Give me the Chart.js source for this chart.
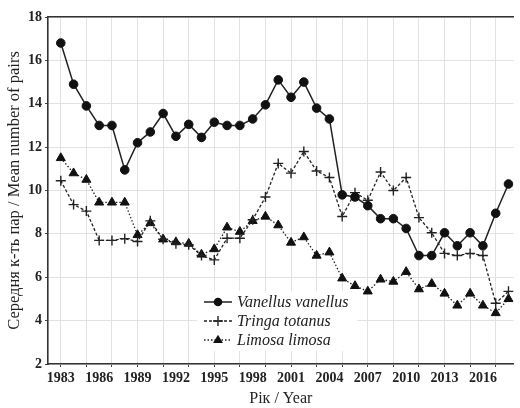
<!DOCTYPE html>
<html>
<head>
<meta charset="utf-8">
<script src="https://cdn.jsdelivr.net/npm/chart.js@4.4.1/dist/chart.umd.min.js"></script>
<style>
    html, body { margin: 0; padding: 0; background: #fff; }
    #wrap { width: 520px; height: 408px; position: relative; }
</style>
</head>
<body>
<div id="wrap"><canvas id="birdChart"></canvas></div>
<script>
const years = [1983, 1984, 1985, 1986, 1987, 1988, 1989, 1990, 1991, 1992, 1993, 1994,
               1995, 1996, 1997, 1998, 1999, 2000, 2001, 2002, 2003, 2004, 2005, 2006,
               2007, 2008, 2009, 2010, 2011, 2012, 2013, 2014, 2015, 2016, 2017, 2018];

const vanellus = [16.8, 14.9, 13.9, 13.0, 13.0, 10.95, 12.2, 12.7, 13.55, 12.5, 13.05, 12.45,
                  13.15, 13.0, 13.0, 13.3, 13.95, 15.1, 14.3, 15.0, 13.8, 13.3, 9.8, 9.7,
                  9.3, 8.7, 8.7, 8.25, 7.0, 7.0, 8.05, 7.45, 8.05, 7.45, 8.95, 10.3];

const tringa = [10.45, 9.35, 9.05, 7.7, 7.7, 7.78, 7.65, 8.6, 7.75, 7.55, 7.5, 7.0,
                6.8, 7.8, 7.8, 8.65, 9.7, 11.25, 10.8, 11.8, 10.9, 10.6, 8.8, 9.9,
                9.55, 10.85, 10.0, 10.6, 8.75, 8.05, 7.1, 7.0, 7.1, 7.0, 4.8, 5.35];

const limosa = [11.5, 10.8, 10.5, 9.45, 9.45, 9.45, 7.95, 8.5, 7.75, 7.62, 7.55, 7.05,
                7.3, 8.3, 8.1, 8.6, 8.8, 8.4, 7.6, 7.85, 7.0, 7.15, 5.95, 5.6,
                5.35, 5.9, 5.8, 6.25, 5.45, 5.7, 5.25, 4.7, 5.25, 4.7, 4.35, 5.0];

const seriesNames = ['Vanellus vanellus', 'Tringa totanus', 'Limosa limosa'];
const yTitle = 'Середня к-ть пар / Mean number of pairs';
const xTitle = 'Рік / Year';
const firstLabelYear = 1983;   // x labels every 3 years from here

const INK = '#222';
const GRID = '#e2e2e2';

function toPoints(values) {
    return values.map((v, i) => ({ x: years[i], y: v }));
}

// legend drawn inside the plot: line sample + marker + italic name
const insideLegend = {
    id: 'insideLegend',
    afterDatasetsDraw(chart) {
        const ctx = chart.ctx;
        ctx.save();
        ctx.fillStyle = '#fff';
        ctx.fillRect(197, 291, 160, 60);
        chart.data.datasets.forEach((ds, i) => {
            const y = 302 + i * 19;
            const mx = 218;
            ctx.strokeStyle = ds.borderColor;
            ctx.lineWidth = ds.borderWidth;
            ctx.setLineDash(ds.borderDash || []);
            ctx.beginPath();
            ctx.moveTo(204, y);
            ctx.lineTo(232, y);
            ctx.stroke();
            ctx.setLineDash([]);

            const r = ds.pointRadius;
            ctx.fillStyle = ds.pointBackgroundColor;
            ctx.strokeStyle = ds.pointBorderColor;
            ctx.lineWidth = ds.pointBorderWidth;
            ctx.beginPath();
            if (ds.pointStyle === 'circle') {
                ctx.arc(mx, y, r, 0, Math.PI * 2);
                ctx.fill();
            } else if (ds.pointStyle === 'triangle') {
                ctx.moveTo(mx, y - r);
                ctx.lineTo(mx + r * 0.95, y + r * 0.6);
                ctx.lineTo(mx - r * 0.95, y + r * 0.6);
                ctx.closePath();
                ctx.fill();
            } else {
                ctx.moveTo(mx - r, y); ctx.lineTo(mx + r, y);
                ctx.moveTo(mx, y - r); ctx.lineTo(mx, y + r);
                ctx.stroke();
            }

            ctx.fillStyle = INK;
            ctx.font = 'italic 16px "Liberation Serif"';
            ctx.textBaseline = 'middle';
            ctx.textAlign = 'left';
            ctx.fillText(ds.label, 237, y + 1);
        });
        ctx.restore();
    }
};

const ctx = document.getElementById('birdChart').getContext('2d');
new Chart(ctx, {
    type: 'line',
    data: {
        datasets: [
            {
                label: seriesNames[0], data: toPoints(vanellus),
                borderColor: INK, borderWidth: 1.5, tension: 0,
                pointStyle: 'circle', pointRadius: 4.3,
                pointBackgroundColor: '#111', pointBorderColor: '#111', pointBorderWidth: 1
            },
            {
                label: seriesNames[1], data: toPoints(tringa),
                borderColor: INK, borderWidth: 1.3, borderDash: [3, 2], tension: 0,
                pointStyle: 'cross', pointRadius: 5,
                pointBackgroundColor: INK, pointBorderColor: INK, pointBorderWidth: 1.4
            },
            {
                label: seriesNames[2], data: toPoints(limosa),
                borderColor: INK, borderWidth: 1.3, borderDash: [1.5, 2], tension: 0,
                pointStyle: 'triangle', pointRadius: 5.2,
                pointBackgroundColor: '#111', pointBorderColor: '#111', pointBorderWidth: 1
            }
        ]
    },
    options: {
        responsive: true,
        maintainAspectRatio: false,
        animation: false,
        layout: { padding: { top: 17, right: 0, left: 0, bottom: 0 } },
        plugins: { legend: { display: false }, tooltip: { enabled: false } },
        scales: {
            x: {
                type: 'linear', position: 'bottom', min: 1982, max: 2018.4,
                afterFit: (scale) => { scale.height = 44; },
                border: { display: true, color: '#333', width: 1.6 },
                grid: {
                    color: (c) => (c.tick && c.tick.value % 2 === 1 ? GRID : 'rgba(0,0,0,0)'),
                    tickColor: (c) => (c.tick && c.tick.value % 2 === 1 ? '#444' : 'rgba(0,0,0,0)'),
                    tickLength: 3, lineWidth: 1
                },
                ticks: {
                    stepSize: 1, autoSkip: false, includeBounds: false, maxRotation: 0,
                    padding: 3, color: INK,
                    font: { family: '"Liberation Serif"', size: 14, weight: 'bold' },
                    callback: (v) => ((v - firstLabelYear) % 3 === 0 ? String(v) : '')
                },
                title: {
                    display: true, text: xTitle, color: INK,
                    font: { family: '"Liberation Serif"', size: 16 },
                    padding: { top: 0, bottom: 0 }
                }
            },
            xTop: {
                type: 'linear', position: 'top', min: 1982, max: 2018.4,
                border: { display: true, color: '#333', width: 1.4 },
                grid: { drawOnChartArea: false, drawTicks: false },
                ticks: { display: false }
            },
            y: {
                min: 2, max: 18,
                afterFit: (scale) => { scale.width = 48; },
                border: { display: true, color: '#333', width: 1.6 },
                grid: { color: GRID, tickColor: '#444', tickLength: 3, lineWidth: 1 },
                ticks: {
                    stepSize: 2, padding: 3, color: INK,
                    font: { family: '"Liberation Serif"', size: 14, weight: 'bold' }
                },
                title: {
                    display: true, text: yTitle, color: INK,
                    font: { family: '"Liberation Serif"', size: 16.5 },
                    padding: { top: 5, bottom: 0 }
                }
            }
        }
    },
    plugins: [insideLegend]
});
</script>
</body>
</html>
